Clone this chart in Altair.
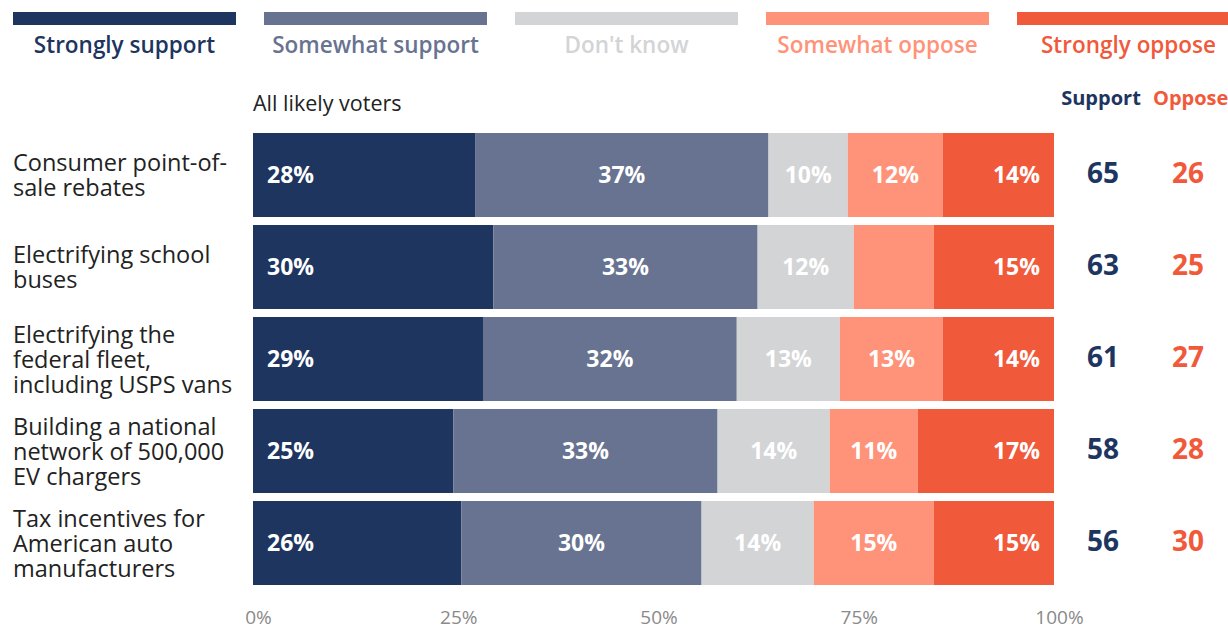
import altair as alt
import pandas as pd

items = [
    "Consumer point-of-\nsale rebates",
    "Electrifying school\nbuses",
    "Electrifying the\nfederal fleet,\nincluding USPS vans",
    "Building a national\nnetwork of 500,000\nEV chargers",
    "Tax incentives for\nAmerican auto\nmanufacturers",
]
categories = ["Strongly support", "Somewhat support", "Don't know", "Somewhat oppose", "Strongly oppose"]
colors = ["#1d355f", "#687391", "#d3d4d6", "#ff937a", "#f1593b"]

strongly_support = [28, 30, 29, 25, 26]
somewhat_support = [37, 33, 32, 33, 30]
dont_know = [10, 12, 13, 14, 14]
somewhat_oppose = [12, 10, 13, 11, 15]
strongly_oppose = [14, 15, 14, 17, 15]
support_total = [65, 63, 61, 58, 56]
oppose_total = [26, 25, 27, 28, 30]
hidden_labels = [(1, "Somewhat oppose")]

series = [strongly_support, somewhat_support, dont_know, somewhat_oppose, strongly_oppose]
FONT = "Open Sans"
LINE_H = 25

rows = []
for i, item in enumerate(items):
    vals = [s[i] for s in series]
    tot = sum(vals)
    cum = 0
    for c, v in zip(categories, vals):
        start = cum / tot
        cum += v
        end = cum / tot
        rows.append({
            "id": i, "item": item, "cat": c, "value": v,
            "start": start, "end": end, "mid": (start + end) / 2,
            "label": "" if (i, c) in hidden_labels else f"{v}%",
        })
df = pd.DataFrame(rows)
tot_df = pd.DataFrame({"id": list(range(len(items))), "item": items,
                       "nlines": [it.count("\n") + 1 for it in items],
                       "support": support_total, "oppose": oppose_total})
leg_df = pd.DataFrame({"cat": categories})

yscale = alt.Scale(domain=list(range(len(items))), paddingInner=0.087, paddingOuter=0.0435)
Y = alt.Y("id:N", scale=yscale, axis=None)
cscale = alt.Scale(domain=categories, range=colors)

base = alt.Chart(df)
bars = base.mark_bar().encode(
    x=alt.X("start:Q", scale=alt.Scale(domain=[0, 1]),
            axis=alt.Axis(values=[0, 0.25, 0.5, 0.75, 1], format="%", title=None,
                          domain=False, ticks=False, grid=False, labelColor="#8a8a8a",
                          labelFontSize=19, labelFont=FONT, labelPadding=19,
                          labelFlush=False, labelOffset=5)),
    x2="end:Q",
    y=Y,
    color=alt.Color("cat:N", scale=cscale, legend=None),
)

def lbl(filter_cat, field, align, dx):
    return base.transform_filter(alt.datum.cat == filter_cat).mark_text(
        align=align, baseline="middle", dx=dx, dy=1, font=FONT, fontSize=23, fontWeight="bold", color="white"
    ).encode(x=alt.X(f"{field}:Q", scale=alt.Scale(domain=[0, 1])), y=Y, text="label:N")

labels = [
    lbl("Strongly support", "start", "left", 14),
    lbl("Somewhat support", "mid", "center", 0),
    lbl("Don't know", "mid", "center", 0),
    lbl("Somewhat oppose", "mid", "center", 0),
    lbl("Strongly oppose", "end", "right", -14),
]

ylabels = []
for n in sorted(set(tot_df["nlines"])):
    ylabels.append(alt.Chart(tot_df).transform_filter(alt.datum.nlines == int(n)).mark_text(
        align="left", baseline="middle", lineBreak="\n", font=FONT, fontSize=23.5,
        color="#222222", lineHeight=LINE_H, dy=-(int(n) - 1) * LINE_H / 2 + 1.5
    ).encode(x=alt.value(-240), y=Y, text="item:N"))

sup = alt.Chart(tot_df).mark_text(
    align="center", baseline="middle", font=FONT, fontSize=28, fontWeight="bold", color="#1d355f"
).encode(x=alt.value(850), y=Y, text="support:Q")
opp = alt.Chart(tot_df).mark_text(
    align="center", baseline="middle", font=FONT, fontSize=28, fontWeight="bold", color="#f1593b"
).encode(x=alt.value(935), y=Y, text="oppose:Q")

sup_h = alt.Chart(tot_df.head(1)).mark_text(
    align="center", baseline="middle", font=FONT, fontSize=20, fontWeight="bold", color="#1d355f"
).encode(x=alt.value(848), y=alt.value(-30), text=alt.value("Support"))
opp_h = alt.Chart(tot_df.head(1)).mark_text(
    align="left", baseline="middle", font=FONT, fontSize=20, fontWeight="bold", color="#f1593b"
).encode(x=alt.value(900), y=alt.value(-30), text=alt.value("Oppose"))
sub = alt.Chart(tot_df.head(1)).mark_text(
    align="left", baseline="middle", font=FONT, fontSize=21.5, color="#222222"
).encode(x=alt.value(0), y=alt.value(-24), text=alt.value("All likely voters"))

main = alt.layer(bars, *labels, *ylabels, sup, opp, sup_h, opp_h, sub)

lx = alt.X("cat:N", scale=alt.Scale(domain=categories, range=[-240, 987], paddingInner=0.1116, paddingOuter=0),
           axis=None)
leg_rect = alt.Chart(leg_df).mark_bar().encode(
    x=lx, y=alt.value(-117), y2=alt.value(-104),
    color=alt.Color("cat:N", scale=cscale, legend=None),
)
leg_text = alt.Chart(leg_df).mark_text(
    align="center", baseline="middle", font=FONT, fontSize=22.5, fontWeight=600
).encode(x=lx, y=alt.value(-83), text="cat:N",
         color=alt.Color("cat:N", scale=cscale, legend=None))
legend = alt.layer(leg_rect, leg_text)

chart = alt.layer(main, legend).resolve_scale(x="independent").properties(
    width=801, height=460,
    autosize=alt.AutoSizeParams(type="none"),
    padding={"left": 253, "top": 129, "right": 174, "bottom": 39},
).configure_view(stroke=None)

chart.save("out.html", embed_options={"renderer": "svg", "actions": False})
